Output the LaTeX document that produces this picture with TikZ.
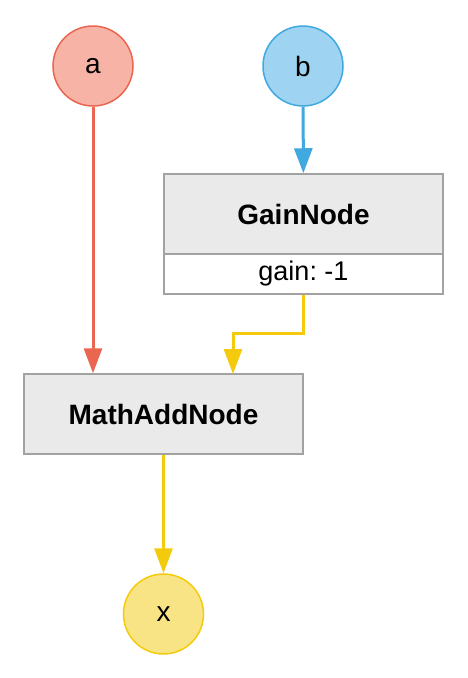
\documentclass[tikz,border=0pt]{standalone}
\usepackage{fontspec}
\setmainfont{Liberation Sans}
\usetikzlibrary{arrows.meta}
\definecolor{inred}{HTML}{EA6650}
\definecolor{inredfill}{HTML}{F6B3A6}
\definecolor{inblue}{HTML}{41A9E0}
\definecolor{inbluefill}{HTML}{9ED4F1}
\definecolor{outyellow}{HTML}{F4CB0C}
\definecolor{outyellowfill}{HTML}{F9E485}
\definecolor{boxgray}{HTML}{A2A2A2}
\definecolor{boxfill}{HTML}{EAEAEA}
\frenchspacing
\begin{document}
\begin{tikzpicture}[
    x=1pt, y=-1pt,
    port/.style={circle, line width=1.5pt, minimum size=80pt, inner sep=0pt, font=\fontsize{28}{32}\selectfont},
    block/.style={draw=boxgray, line width=1.5pt, fill=boxfill, minimum width=279pt, minimum height=80pt, inner sep=0pt, font=\fontsize{28}{32}\selectfont\bfseries},
    param/.style={draw=boxgray, line width=1.5pt, fill=white, minimum width=279pt, minimum height=40pt, inner sep=0pt, font=\fontsize{27}{31}\selectfont},
    >={Triangle[length=25pt, width=18pt]},
]
    \useasboundingbox (0,0) rectangle (468,678);

    \node[port, draw=inred, fill=inredfill] (a) at (93, 66) {a};
    \node[port, draw=inblue, fill=inbluefill] (b) at (303, 66) {b};
    \node[block] (gain) at (303.5, 214) {GainNode};
    \node[param] (gainval) at (303.5, 274) {gain: -1};
    \node[block] (add) at (163.5, 414) {MathAddNode};
    \node[port, draw=outyellow, fill=outyellowfill] (x) at (163.5, 614) {x};

    \coordinate (addin) at (233, 374);

    \draw[->, line width=3pt, inred] (a) -- (a |- add.north);
    \draw[->, line width=3pt, inblue] (b) -- (gain);
    \draw[->, line width=3pt, outyellow] (gainval.south) -- ++(0, 39) -| (addin);
    \draw[->, line width=3pt, outyellow] (add) -- (x);
\end{tikzpicture}
\end{document}
